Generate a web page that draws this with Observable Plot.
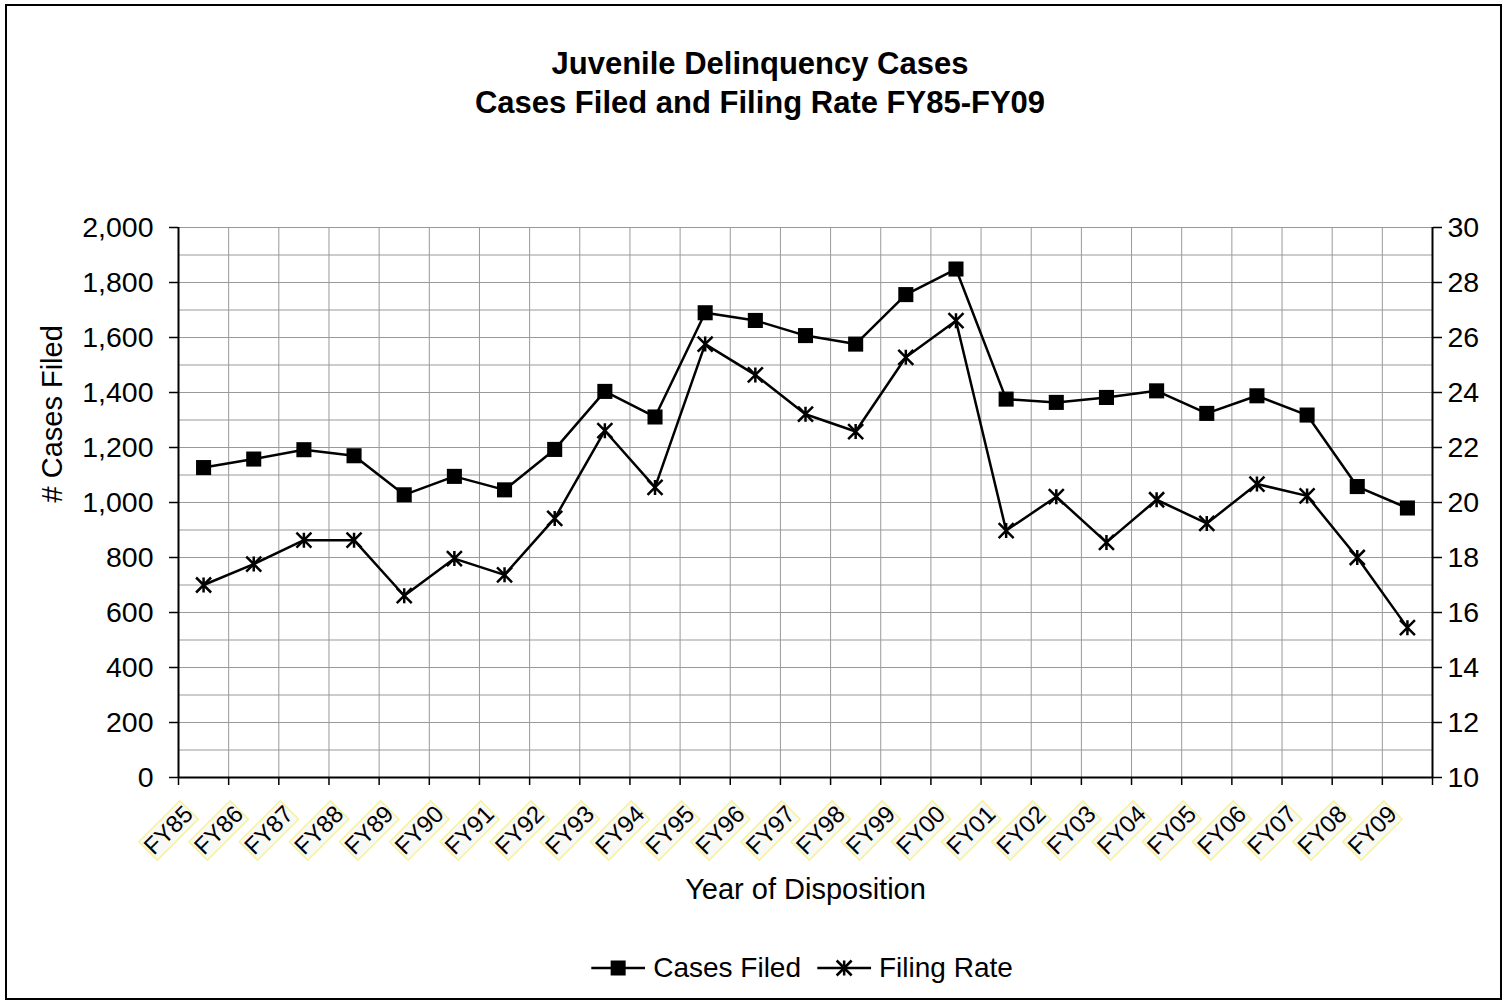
<!DOCTYPE html>
<html>
<head>
<meta charset="utf-8">
<script src="https://cdn.jsdelivr.net/npm/d3@7"></script>
<script src="https://cdn.jsdelivr.net/npm/@observablehq/plot@0.6"></script>
<style>
  body { margin: 0; background: #fff; font-family: "Liberation Sans", Arial, sans-serif; }
  #wrap { position: relative; width: 1503px; height: 1002px; overflow: hidden; background: #fff; }
  #chart { position: absolute; left: 0; top: 0; }
  #frame { position: absolute; left: 5px; top: 4px; width: 1497px; height: 996px; border: 2px solid #000; box-sizing: border-box; pointer-events: none; }
  #title { position: absolute; left: 760px; top: 45px; transform: translateX(-50%); text-align: center; font-weight: bold; font-size: 31px; line-height: 38.5px; white-space: nowrap; color: #000; }
  #legend { position: absolute; left: 802px; top: 952px; transform: translateX(-50%); display: flex; align-items: center; font-size: 28px; line-height: 32px; white-space: nowrap; color: #000; }
  #legend svg { display: block; }
  .item { display: flex; align-items: center; }
</style>
</head>
<body>
<div id="wrap">
  <div id="chart"></div>
  <div id="title">Juvenile Delinquency Cases<br>Cases Filed and Filing Rate FY85-FY09</div>
  <div id="legend"></div>
  <div id="frame"></div>
</div>
<script>
const categories = ["FY85","FY86","FY87","FY88","FY89","FY90","FY91","FY92","FY93","FY94","FY95","FY96","FY97","FY98","FY99","FY00","FY01","FY02","FY03","FY04","FY05","FY06","FY07","FY08","FY09"];
const casesFiled = [1127,1158,1192,1170,1028,1095,1046,1193,1404,1311,1690,1662,1607,1576,1756,1849,1376,1364,1382,1406,1324,1388,1318,1058,980];
const filingRate = [17.0,17.76,18.63,18.63,16.61,17.96,17.37,19.42,22.61,20.55,25.76,24.64,23.21,22.58,25.28,26.61,18.98,20.21,18.55,20.1,19.24,20.67,20.24,18.0,15.45];
const leftTicks = [0,200,400,600,800,1000,1200,1400,1600,1800,2000];
const rightTicks = [10,12,14,16,18,20,22,24,26,28,30];
const minorGrid = [0,100,200,300,400,500,600,700,800,900,1000,1100,1200,1300,1400,1500,1600,1700,1800,1900,2000];
const seriesNames = ["Cases Filed","Filing Rate"];

// right axis (rate) mapped onto left scale: rate 10 -> 0, rate 30 -> 2000
const rateToLeft = r => (r - 10) * 100;
const leftToRate = v => 10 + v / 100;

const table = categories.map((c, i) => ({cat: c, pos: i + 0.5, cases: casesFiled[i], rateY: rateToLeft(filingRate[i])}));
const boundaries = categories.map((c, i) => i).concat([categories.length]);
const innerBoundaries = boundaries.slice(1, -1);

const starSymbol = {
  draw(ctx, size) {
    const r = Math.sqrt(size / Math.PI);
    ctx.moveTo(0, -r); ctx.lineTo(0, r);
    ctx.moveTo(-r, -r); ctx.lineTo(r, r);
    ctx.moveTo(-r, r); ctx.lineTo(r, -r);
  }
};

// rotated (-45deg) highlight box behind each category label
const labelBox = {
  draw(ctx) {
    const w = 58, h = 26, c = Math.SQRT1_2;
    const pts = [[-w / 2, -h / 2], [w / 2, -h / 2], [w / 2, h / 2], [-w / 2, h / 2]]
      .map(([a, b]) => [c * a + c * b, -c * a + c * b]);
    ctx.moveTo(pts[0][0], pts[0][1]);
    for (let k = 1; k < 4; ++k) ctx.lineTo(pts[k][0], pts[k][1]);
    ctx.closePath();
  }
};

const FONT = '"Liberation Sans", Arial, sans-serif';

const chart = Plot.plot({
  width: 1503,
  height: 1002,
  marginLeft: 178,
  marginRight: 71,
  marginTop: 227,
  marginBottom: 225,
  style: {fontFamily: FONT, fontSize: "28px", color: "#000", background: "transparent"},
  x: {type: "linear", domain: [0, categories.length], label: null},
  y: {domain: [0, 2000], label: null},
  marks: [
    Plot.gridY(minorGrid, {stroke: "#999", strokeOpacity: 1, strokeWidth: 1}),
    Plot.gridX(innerBoundaries, {stroke: "#999", strokeOpacity: 1, strokeWidth: 1}),
    Plot.axisY({anchor: "left", ticks: leftTicks, tickSize: 9, tickPadding: 16, tickFormat: d3.format(","), label: null, fontSize: 28.5, strokeWidth: 1.5}),
    Plot.axisY({anchor: "right", ticks: rightTicks.map(rateToLeft), tickSize: 9, tickPadding: 6, tickFormat: v => String(leftToRate(v)), label: null, fontSize: 28.5, strokeWidth: 1.5}),
    Plot.axisX({ticks: boundaries, tickSize: 8, tickFormat: () => "", label: null, strokeWidth: 1.5}),
    Plot.ruleY([0], {stroke: "#000", strokeWidth: 2}),
    Plot.ruleX([0, categories.length], {stroke: "#000", strokeWidth: 2}),
    Plot.dot(table, {x: "pos", frameAnchor: "bottom", dx: -35, dy: 53, symbol: labelBox, r: 5, fill: "#f8f8f4", stroke: "#f6f29a", strokeWidth: 1.5}),
    Plot.text(table, {x: "pos", text: "cat", frameAnchor: "bottom", rotate: -45, textAnchor: "end", lineAnchor: "middle", dx: -14.6, dy: 32.6, fontSize: 24, fill: "#000"}),
    Plot.line(table, {x: "pos", y: "cases", stroke: "#000", strokeWidth: 2.5}),
    Plot.line(table, {x: "pos", y: "rateY", stroke: "#000", strokeWidth: 2.5}),
    Plot.dot(table, {x: "pos", y: "cases", symbol: "square", r: 8.5, fill: "#000", stroke: "none"}),
    Plot.dot(table, {x: "pos", y: "rateY", symbol: starSymbol, r: 7.5, fill: "none", stroke: "#000", strokeWidth: 2.5}),
    Plot.text(["Year of Disposition"], {frameAnchor: "bottom", dy: 121, fontSize: 29, fill: "#000"}),
    Plot.text(["# Cases Filed"], {frameAnchor: "left", dx: -125.5, rotate: -90, fontSize: 29, fill: "#000"})
  ]
});
document.getElementById("chart").appendChild(chart);

// legend
const legend = d3.select("#legend");
seriesNames.forEach((name, i) => {
  const item = legend.append("div").attr("class", "item").style("margin-left", i ? "16px" : "0px");
  const svg = item.append("svg").attr("width", 54).attr("height", 20);
  svg.append("line").attr("x1", 0).attr("x2", 54).attr("y1", 10).attr("y2", 10).attr("stroke", "#000").attr("stroke-width", 2.5);
  if (i === 0) {
    svg.append("rect").attr("x", 19.5).attr("y", 2.5).attr("width", 15).attr("height", 15).attr("fill", "#000");
  } else {
    svg.append("path").attr("d", "M27,2.5L27,17.5M19.5,2.5L34.5,17.5M19.5,17.5L34.5,2.5").attr("stroke", "#000").attr("stroke-width", 2.5).attr("fill", "none");
  }
  item.append("span").style("margin-left", "8px").text(name);
});
</script>
</body>
</html>
